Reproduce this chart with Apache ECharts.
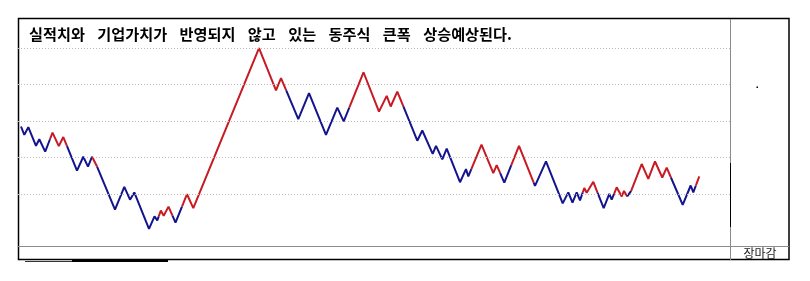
<!DOCTYPE html>
<html><head><meta charset="utf-8">
<script src="https://cdn.jsdelivr.net/npm/echarts@6/dist/echarts.min.js"></script>
<style>html,body{margin:0;padding:0;background:#fff}#c{width:810px;height:281px}</style>
</head><body><div id="c"></div>
<script>
// ---- data ----
const titleText = '실적치와 기업가치가 반영되지 않고 있는 동주식 큰폭 상승예상된다.';
const sideLabel = '장마감';
// kagi turning points: horizontal step position and price
const turnStep = [3,6.3,10.3,18,21.3,27.2,34.5,40.8,45.3,59,65.3,70,74.5,97,106.3,112,116.3,131,136.5,139.3,
  142.8,145.7,150.5,157.5,169,175.3,241,258,263,280.3,291,308,319.3,325.7,345.5,361,368.7,372.7,379.3,399.3,
  404.3,414.7,418,424.3,428.7,442,448,450.3,463.5,475.3,478.7,486.3,501,517,528,544.7,550.3,554.5,558.7,562,
  566.3,568.7,575.3,585.7,591.3,593.7,598.7,603.7,606,610.3,623.7,630.3,637,644.3,648.7,664.7,672.7,675.3,681.3];
const turnPrice = [58.5,56.2,58.3,53.2,55.0,51.6,56.8,53.1,55.6,46.4,50.2,47.5,50.5,35.7,41.9,38.4,40.4,30.4,33.8,32.7,
  35.4,34.0,36.5,32.1,39.9,36.1,80.0,68.4,71.8,60.5,67.7,56.2,63.7,59.9,73.4,62.6,66.9,64.0,68.1,54.6,
  57.4,51.0,53.2,49.5,52.4,43.2,46.8,44.8,53.5,45.7,47.9,43.1,53.2,42.2,48.9,37.4,40.4,37.6,40.4,38.2,
  41.6,40.3,43.3,36.1,40.0,38.4,41.8,39.3,40.8,38.8,48.2,44.1,48.9,44.5,47.2,37.0,42.3,40.4,44.8];
const gridValues = [40,50,60,70,80];
const upColor = '#c81a22', downColor = '#14148e';

// ---- kagi colouring: switch colour when price crosses previous shoulder / waist ----
const pts = turnStep.map((x,i)=>[x, turnPrice[i]]);
const runs = [];
let color = downColor, cur = [pts[0]];
for (let i=1;i<pts.length;i++){
  const a=pts[i-1], b=pts[i];
  const ref = i>=2 ? pts[i-2][1] : null;
  let flip = null;
  if (ref!==null){
    if (b[1]>a[1] && color===downColor && b[1]>ref) flip = upColor;
    if (b[1]<a[1] && color===upColor && b[1]<ref) flip = downColor;
  }
  if (flip){
    const t=(ref-a[1])/(b[1]-a[1]);
    const m=[a[0]+t*(b[0]-a[0]), ref];
    cur.push(m); runs.push({color, data:cur}); color=flip; cur=[m,b];
  } else cur.push(b);
}
runs.push({color, data:cur});

const richTitle = titleText.split(' ').map(w=>'{w|'+w+'}').join('{s| }');
const titleFont = '"Noto Sans CJK KR", sans-serif';

const chart = echarts.init(document.getElementById('c'), null, {renderer:'canvas'});
const series = runs.map((r,k)=>({
  type:'line', data:r.data, showSymbol:false, symbol:'none', animation:false, z:3,
  lineStyle:{color:r.color, width:2}, itemStyle:{color:r.color},
  markLine: k===0 ? {silent:true, symbol:'none', animation:false, label:{show:false},
    lineStyle:{type:[1,2], color:'#b8b8b8', width:1},
    data: gridValues.map(v=>({yAxis:v}))} : undefined
}));
chart.setOption({
  animation:false,
  backgroundColor:'#ffffff',
  grid:{left:18, right:80, top:18, bottom:34.7, containLabel:false},
  xAxis:{type:'value', min:0, max:712, axisLine:{show:true, lineStyle:{color:'#8c8c8c', width:1}},
    axisTick:{show:false}, axisLabel:{show:false}, splitLine:{show:false}},
  yAxis:{type:'value', min:25.6, max:88.3, axisLine:{show:false}, axisTick:{show:false},
    axisLabel:{show:false}, splitLine:{show:false}},
  title:{text:richTitle, left:29, top:27, padding:0,
    textStyle:{fontFamily:titleFont, fontSize:15.2, fontWeight:'bold', color:'#000',
      rich:{
        w:{fontFamily:titleFont, fontSize:15.2, fontWeight:'bold', color:'#000'},
        s:{fontFamily:titleFont, fontSize:15.2, width:12.4}
      }}},
  series,
  graphic:[
    {type:'rect', silent:true, shape:{x:18.5, y:18.5, width:770.5, height:241}, style:{fill:null, stroke:'#000', lineWidth:1.5}},
    {type:'line', silent:true, shape:{x1:730.5, y1:19, x2:730.5, y2:260}, style:{stroke:'#8a8a8a', lineWidth:1}},
    {type:'line', silent:true, shape:{x1:730.5, y1:163, x2:730.5, y2:227}, style:{stroke:'#000', lineWidth:1}},
    {type:'line', silent:true, shape:{x1:730, y1:246.5, x2:789, y2:246.5}, style:{stroke:'#8c8c8c', lineWidth:1}},
    {type:'rect', silent:true, shape:{x:72, y:259, width:96, height:3}, style:{fill:'#000'}},
    {type:'line', silent:true, shape:{x1:25, y1:261.5, x2:72, y2:261.5}, style:{stroke:'#333', lineWidth:1}},
    {type:'rect', silent:true, shape:{x:756.5, y:86.5, width:1.5, height:1.5}, style:{fill:'#000'}},
    {type:'text', silent:true, x:760, y:253.5, style:{text:sideLabel, fill:'#1a1a1a', font:'12px "Noto Sans CJK KR", sans-serif', textAlign:'center', textVerticalAlign:'middle'}}
  ]
});
</script>
</body></html>
